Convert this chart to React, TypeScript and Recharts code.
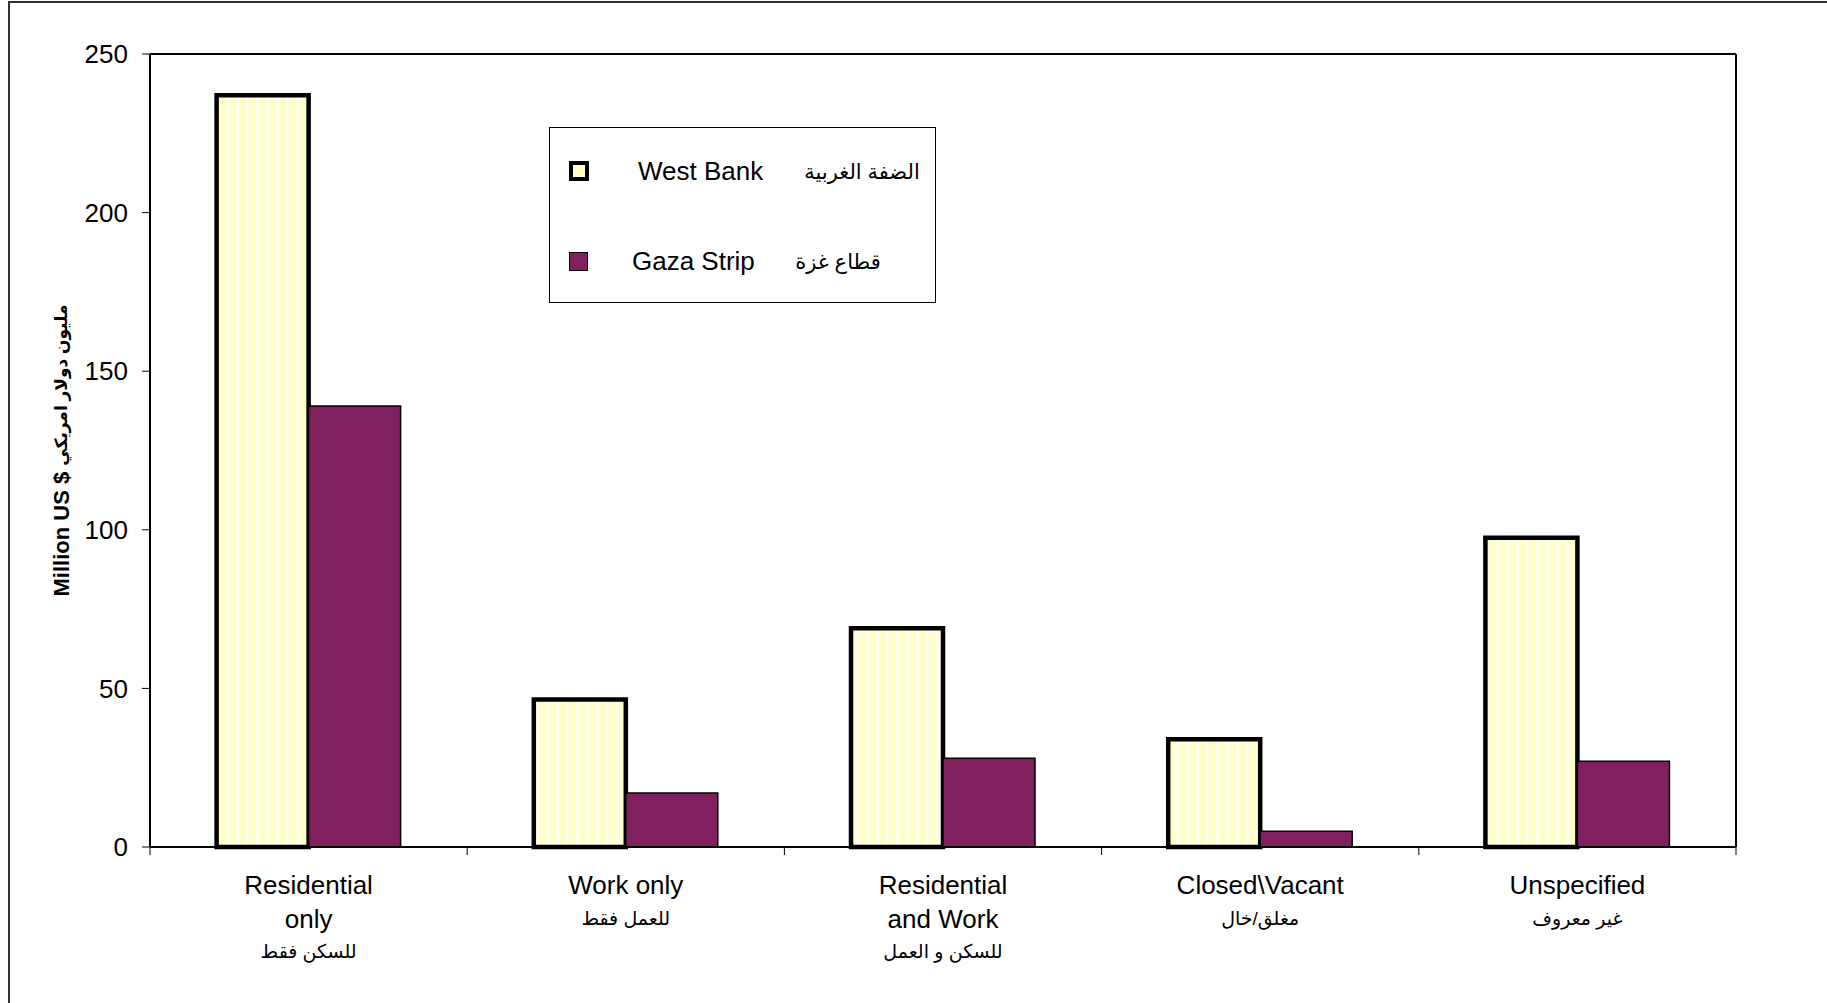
import React from 'react';
import { BarChart, Bar, XAxis, YAxis, Legend } from 'recharts';

// Category labels (English lines + Arabic line)
const categoriesEn: string[][] = [
  ['Residential', 'only'],
  ['Work only'],
  ['Residential', 'and Work'],
  ['Closed\\Vacant'],
  ['Unspecified'],
];
const categoriesAr: string[] = ['للسكن فقط', 'للعمل فقط', 'للسكن و العمل', 'مغلق/خال', 'غير معروف'];

// Values in million US $
const westBankValues: number[] = [237, 46.5, 69, 34, 97.5];
const gazaStripValues: number[] = [139, 17, 28, 5, 27];

const yTicks: number[] = [0, 50, 100, 150, 200, 250];

const seriesLabels = {
  westBank: { en: 'West Bank', ar: 'الضفة الغربية' },
  gaza: { en: 'Gaza Strip', ar: 'قطاع غزة' },
};

const axisTitleEn = 'Million US $';
const axisTitleAr = 'مليون دولار امريكي';

const data = categoriesEn.map((lines, i) => ({
  name: lines.join(' '),
  en: lines,
  ar: categoriesAr[i],
  westBank: westBankValues[i],
  gaza: gazaStripValues[i],
}));

const FONT = '"Liberation Sans", Arial, "DejaVu Sans", sans-serif';
const WB_FILL = '#FFFFC6';
const GAZA_FILL = '#80205F';

const CategoryTick = (props: any) => {
  const { x, y, payload } = props;
  const i = payload?.index ?? props.index ?? 0;
  const row = data[i];
  const half = payload?.offset ?? 0;
  const axisY = y - 8;
  const lines = row.en;
  return (
    <g>
      <line x1={x - half} x2={x - half} y1={axisY} y2={axisY + 8} stroke="#000" strokeWidth={1} />
      {i === data.length - 1 && (
        <line x1={x + half} x2={x + half} y1={axisY} y2={axisY + 8} stroke="#000" strokeWidth={1} />
      )}
      {lines.map((l, k) => (
        <text
          key={k}
          x={x}
          y={axisY + 38 + k * 34}
          textAnchor="middle"
          dominantBaseline="central"
          fontSize={26}
          fontFamily={FONT}
          fill="#000"
        >
          {l}
        </text>
      ))}
      <text
        x={x}
        y={axisY + 38 + lines.length * 33}
        textAnchor="middle"
        dominantBaseline="central"
        fontSize={19}
        fontFamily={FONT}
        fill="#000"
      >
        {row.ar}
      </text>
    </g>
  );
};

const AxisTitle = (props: any) => {
  const vb = props.viewBox || { x: 50, y: 54, width: 100, height: 793 };
  const cx = vb.x + 11;
  const cy = vb.y + vb.height / 2;
  return (
    <text
      x={cx}
      y={cy}
      transform={`rotate(-90, ${cx}, ${cy})`}
      textAnchor="middle"
      dominantBaseline="central"
      fontFamily={FONT}
      fontWeight="bold"
      fill="#000"
    >
      <tspan fontSize={22}>{axisTitleEn} </tspan>
      <tspan fontSize={17}>{axisTitleAr}</tspan>
    </text>
  );
};

const LegendBox = () => {
  const rows = [
    { key: 'westBank', cy: 43, enLeft: 88, arCenter: 312, swatch: { fill: WB_FILL, border: 4, size: 20 } },
    { key: 'gaza', cy: 133, enLeft: 82, arCenter: 288, swatch: { fill: GAZA_FILL, border: 1.5, size: 19 } },
  ] as const;
  return (
    <div
      style={{
        position: 'relative',
        width: '100%',
        height: '100%',
        border: '1px solid #000',
        boxSizing: 'border-box',
        background: '#fff',
        fontFamily: FONT,
        color: '#000',
      }}
    >
      {rows.map((r) => {
        const lbl = seriesLabels[r.key];
        return (
          <React.Fragment key={r.key}>
            <div
              style={{
                position: 'absolute',
                left: 19,
                top: r.cy - r.swatch.size / 2,
                width: r.swatch.size,
                height: r.swatch.size,
                boxSizing: 'border-box',
                background: r.swatch.fill,
                border: `${r.swatch.border}px solid #000`,
              }}
            />
            <div
              style={{
                position: 'absolute',
                left: r.enLeft,
                top: r.cy,
                transform: 'translateY(-50%)',
                fontSize: 26,
                lineHeight: 1,
                whiteSpace: 'nowrap',
              }}
            >
              {lbl.en}
            </div>
            <div
              style={{
                position: 'absolute',
                left: r.arCenter,
                top: r.cy,
                transform: 'translate(-50%, -50%)',
                fontSize: 21,
                lineHeight: 1,
                whiteSpace: 'nowrap',
                direction: 'rtl',
              }}
            >
              {lbl.ar}
            </div>
          </React.Fragment>
        );
      })}
    </div>
  );
};

export default function App() {
  return (
    <div style={{ position: 'absolute', left: 0, top: 0, width: 1827, height: 1003, background: '#fff', overflow: 'hidden' }}>
      {/* outer frame */}
      <div
        style={{
          position: 'absolute',
          left: 8,
          top: 1,
          right: -10,
          bottom: -10,
          borderLeft: '2px solid #333',
          borderTop: '2px solid #333',
        }}
      />
      <div style={{ position: 'absolute', left: 0, top: 0 }}>
        <BarChart
          width={1827}
          height={1003}
          data={data}
          margin={{ top: 53, right: 90, bottom: 36, left: 50 }}
          barCategoryGap="21%"
          barGap={0}
        >
          <defs>
            <pattern id="wbStripes" patternUnits="userSpaceOnUse" width="10" height="10">
              <rect width="10" height="10" fill={WB_FILL} />
              <rect x="6" width="3" height="10" fill="#FFFFF0" />
            </pattern>
          </defs>
          <XAxis
            dataKey="name"
            interval={0}
            height={120}
            axisLine={{ stroke: '#000', strokeWidth: 2 }}
            tickLine={false}
            tickSize={8}
            tickMargin={0}
            tick={<CategoryTick />}
          />
          <XAxis
            xAxisId="top"
            dataKey="name"
            orientation="top"
            height={1}
            tick={false}
            tickLine={false}
            axisLine={{ stroke: '#000', strokeWidth: 2 }}
          />
          <YAxis
            width={100}
            domain={[0, 250]}
            ticks={yTicks}
            interval={0}
            axisLine={{ stroke: '#000', strokeWidth: 2 }}
            tickLine={{ stroke: '#000', strokeWidth: 1 }}
            tickSize={8}
            tickMargin={14}
            tick={{ fill: '#000', fontSize: 26, fontFamily: FONT }}
            label={{ content: <AxisTitle /> }}
          />
          <YAxis
            yAxisId="right"
            orientation="right"
            width={1}
            domain={[0, 250]}
            tick={false}
            tickLine={false}
            axisLine={{ stroke: '#000', strokeWidth: 2 }}
          />
          <Legend
            layout="horizontal"
            verticalAlign="middle"
            align="center"
            wrapperStyle={{ left: 549, top: 127, width: 387, height: 176 }}
            content={<LegendBox />}
          />
          <Bar
            dataKey="westBank"
            name={seriesLabels.westBank.en}
            fill="url(#wbStripes)"
            stroke="#000"
            strokeWidth={4.5}
            isAnimationActive={false}
          />
          <Bar
            dataKey="gaza"
            name={seriesLabels.gaza.en}
            fill={GAZA_FILL}
            stroke="#000"
            strokeWidth={1.5}
            isAnimationActive={false}
          />
        </BarChart>
      </div>
    </div>
  );
}
